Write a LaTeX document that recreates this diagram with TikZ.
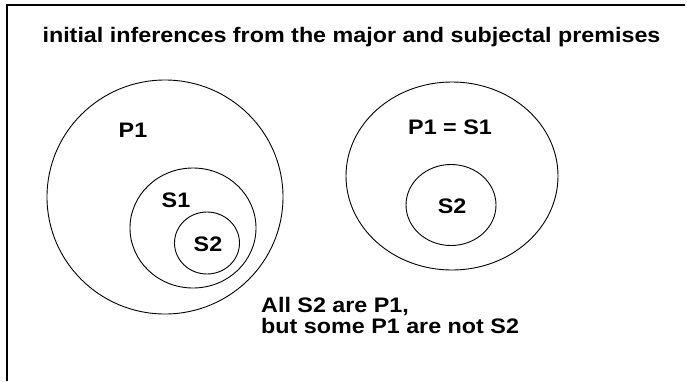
\documentclass[tikz,border=0pt]{standalone}
\usepackage{fontspec}
\setmainfont{Liberation Sans}[FakeStretch=1.11]
\usepackage{tikz}
\usetikzlibrary{shapes.geometric,positioning}

\begin{document}
\begin{tikzpicture}[x=1pt, y=-1pt,
  region/.style={ellipse, draw, line width=0.9pt, inner sep=0pt},
  lbl/.style={inner sep=0pt, font=\fontsize{21}{21.5}\selectfont\bfseries}]
  \useasboundingbox (0,0) rectangle (687,381);
  \draw[line width=2.5pt] (7,381) -- (7,5) -- (685,5);
  \node[lbl, anchor=base] (title) at (351.5,42) {initial inferences from the major and subjectal premises};
  % first case: S2 inside S1 inside P1
  \node[region, minimum width=236pt, minimum height=234pt] (p1) at (165,197) {};
  \node[region, minimum width=126pt, minimum height=120pt] (s1) at (193,228) {};
  \node[region, minimum width=65pt, minimum height=62pt] (s2) at (207,243) {};
  \node[lbl, anchor=base] (p1txt) at (133,137) {P1};
  \node[lbl, anchor=base] (s1txt) at (176,207) {S1};
  \node[lbl, anchor=base] (s2txt) at (208,251) {S2};
  % second case: P1 and S1 coincide
  \node[region, minimum width=212pt, minimum height=188pt] (p1s1) at (452,176) {};
  \node[region, minimum width=90pt, minimum height=81pt] (s2b) at (451,205) {};
  \node[lbl, anchor=base] (p1s1txt) at (450,134) {P1 = S1};
  \node[lbl, anchor=base] (s2btxt) at (452,213) {S2};
  % conclusion
  \node[lbl, anchor=base west] (note1) at (261,312) {All S2 are P1,};
  \node[lbl, anchor=base west] (note2) at (261,333) {but some P1 are not S2};
\end{tikzpicture}
\end{document}
